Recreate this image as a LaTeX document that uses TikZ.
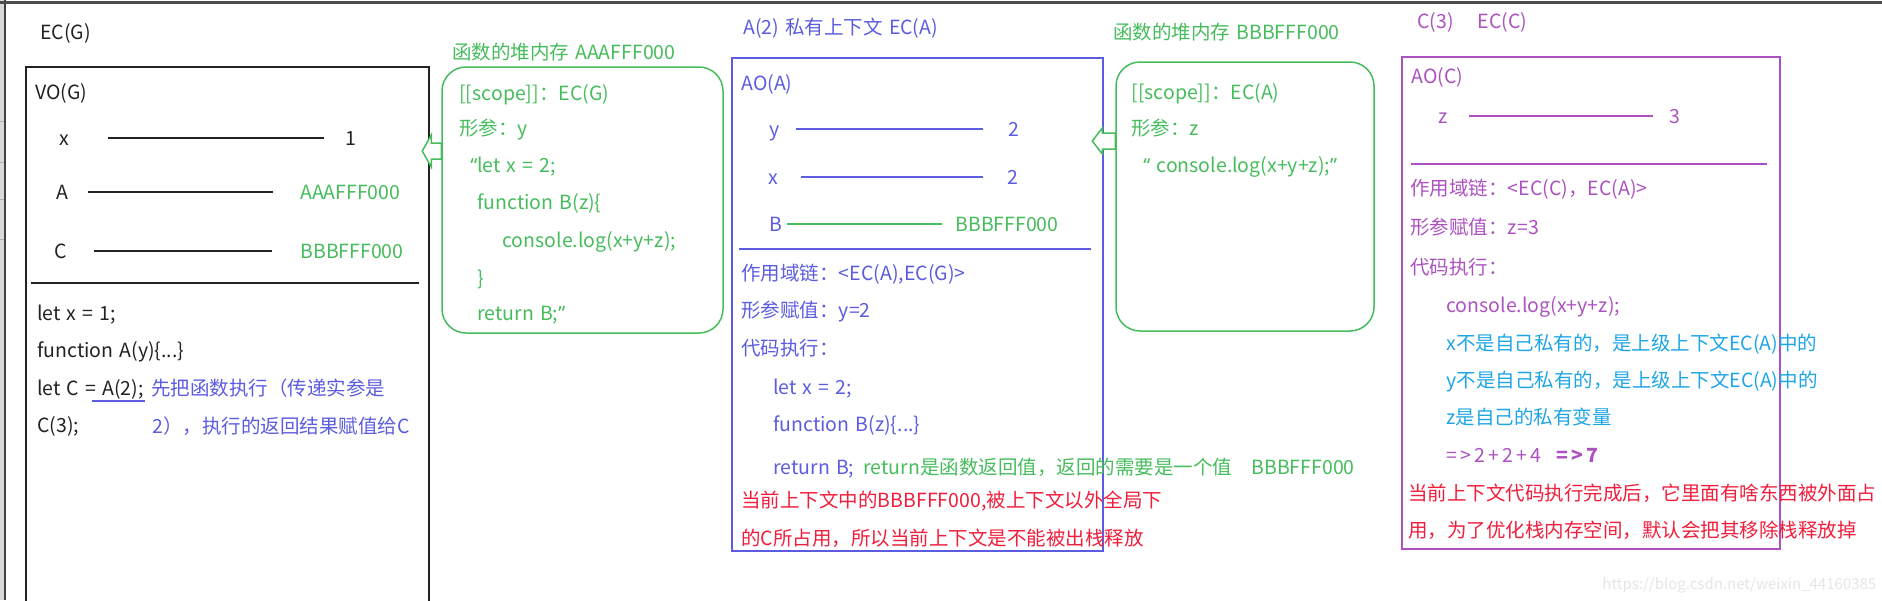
\documentclass[tikz,border=0pt]{standalone}
\usepackage{fontspec}
\setmainfont[WordSpace=1.4]{Noto Sans CJK SC}
\newfontfamily\quotefont{Noto Sans}
\usepackage{xcolor}
\usetikzlibrary{fit}
\definecolor{ecink}{RGB}{34,34,34}
\definecolor{ecgreen}{RGB}{70,188,92}
\definecolor{ecblue}{RGB}{92,92,224}
\definecolor{ecpurple}{RGB}{172,82,192}
\definecolor{eccyan}{RGB}{30,165,230}
\definecolor{ecred}{RGB}{240,30,60}

\begin{document}
\begin{tikzpicture}[x=0.5pt, y=-0.5pt,
  font=\fontsize{9.75}{12}\selectfont,
  txt/.style={anchor=west, inner sep=0pt, text height=1.6ex, text depth=.3ex, text=ecink},
  heap/.style={txt, text=ecgreen},
  ctxa/.style={txt, text=ecblue},
  ctxc/.style={txt, text=ecpurple},
  hint/.style={txt, text=eccyan},
  warn/.style={txt, text=ecred},
  frame/.style={inner sep=0pt, line width=.75pt},
  link/.style={line width=1pt, ecink},
  heaparr/.style={draw=ecgreen, line width=.75pt, fill=white},
]
  \useasboundingbox (0,0) rectangle (1882,600);

  % screenshot edges
  \fill[gray!30] (0,0) rectangle (5,600);
  \foreach \y in {121,162,199,239} {
    \draw[gray!60, line width=.5pt] (0,\y) -- (5,\y);
  }
  \draw[black!75, line width=.75pt] (5,0) -- (5,600);
  \draw[black!70, line width=1.5pt] (0,2) -- (1882,2);

  % global context EC(G)
  \node[txt] (ecgtitle) at (40,32) {EC(G)};
  \node[frame, draw=ecink, line width=1pt, fit={(26,67) (429,606)}] (ecg) {};
  \node[txt] (vog) at (35,92) {VO(G)};
  \node[txt] (gx) at (59,138) {x};
  \node[txt] (gxv) at (345,138) {1};
  \node[txt] (ga) at (56,192) {A};
  \node[heap] (gav) at (300,192) {AAAFFF000};
  \node[txt] (gc) at (54,251) {C};
  \node[heap] (gcv) at (300,251) {BBBFFF000};
  \draw[link] ([xshift=24.5pt]gx.west) -- ([xshift=-10.5pt]gxv.west);
  \draw[link] ([xshift=16pt]ga.west) -- ([xshift=-13.5pt]gav.west);
  \draw[link] ([xshift=20pt]gc.west) -- ([xshift=-14pt]gcv.west);
  \draw[link] (31,283) -- (419,283);
  \foreach \t [count=\i] in {{let x = 1;}, {function A(y)\{.{}.{}.\}}, {let C = A(2);}, {C(3);}} {
    \node[txt] (gcode\i) at (37,275.5+37.6*\i) {\t};
  }
  \draw[ecblue, line width=.6pt] (92,401) -- (145,401);
  \node[ctxa] (gnote1) at (151,388) {先把函数执行（传递实参是};
  \node[ctxa] (gnote2) at (152,426) {2），执行的返回结果赋值给C};

  % heap AAAFFF000
  \node[heap] (heapatitle) at (452,52) {函数的堆内存 AAAFFF000};
  \node[frame, draw=ecgreen, rounded corners=12pt, fit={(442,67) (723,333)}] (heapa) {};
  \node[heap] (ha1) at (459,93) {[[scope]]：EC(G)};
  \node[heap] (ha2) at (459,128) {形参：y};
  \node[heap] (ha3) at (470,165) {{\quotefont “}let x = 2;};
  \node[heap] (ha4) at (477,202) {function B(z)\{};
  \node[heap] (ha5) at (502,240) {console.log(x+y+z);};
  \node[heap] (ha6) at (477,278) {\}};
  \node[heap] (ha7) at (477,313) {return B;{\quotefont ”}};
  \draw[heaparr] (heapa.west |- 0,143) -- ++(-10,0) -- ++(0,-8) -- ++(-9,16)
    -- ++(9,16) -- ++(0,-8) -- ++(10,0) -- cycle;

  % private context EC(A)
  \node[ctxa] (ecatitle) at (743,27) {A(2) 私有上下文 EC(A)};
  \node[frame, draw=ecblue, fit={(732,58) (1103,551)}] (eca) {};
  \node[ctxa] (aoa) at (741,83) {AO(A)};
  \node[ctxa] (ay) at (769,129) {y};
  \node[ctxa] (ayv) at (1008,129) {2};
  \node[ctxa] (ax) at (768,177) {x};
  \node[ctxa] (axv) at (1007,177) {2};
  \node[ctxa] (ab) at (769,224) {B};
  \node[heap] (abv) at (955,224) {BBBFFF000};
  \draw[ecblue, line width=.75pt] ([xshift=13.5pt]ay.west) -- ([xshift=-12.5pt]ayv.west);
  \draw[ecblue, line width=.75pt] ([xshift=16.5pt]ax.west) -- ([xshift=-12pt]axv.west);
  \draw[ecgreen, line width=.75pt] ([xshift=9pt]ab.west) -- ([xshift=-6.5pt]abv.west);
  \draw[ecblue, line width=.75pt] (739,249) -- (1091,249);
  \node[ctxa] (ascope) at (741,273) {作用域链：<EC(A),EC(G)>};
  \node[ctxa] (aparam) at (741,310) {形参赋值：y=2};
  \node[ctxa] (arun) at (741,348) {代码执行：};
  \node[ctxa] (acode1) at (773,387) {let x = 2;};
  \node[ctxa] (acode2) at (773,424) {function B(z)\{.{}.{}.\}};
  \node[ctxa] (acode3) at (773,467) {return B;};
  \node[heap] (aret) at (863,467) {return是函数返回值，返回的需要是一个值\quad BBBFFF000};
  \node[warn] (awarn1) at (741,500) {当前上下文中的BBBFFF000,被上下文以外全局下};
  \node[warn] (awarn2) at (741,538) {的C所占用，所以当前上下文是不能被出栈释放};

  % heap BBBFFF000
  \node[heap] (heapbtitle) at (1113,32) {函数的堆内存 BBBFFF000};
  \node[frame, draw=ecgreen, rounded corners=12pt, fit={(1116,62) (1374,331)}] (heapb) {};
  \node[heap] (hb1) at (1131,92) {[[scope]]：EC(A)};
  \node[heap] (hb2) at (1131,128) {形参：z};
  \node[heap] (hb3) at (1143,165) {{\quotefont “} console.log(x+y+z);{\quotefont ”}};
  \draw[heaparr] (heapb.west |- 0,133) -- ++(-13,0) -- ++(0,-5) -- ++(-10,13)
    -- ++(10,13) -- ++(0,-5) -- ++(13,0) -- cycle;

  % private context EC(C)
  \node[ctxc] (ecctitle) at (1417,21) {C(3)\hspace{12pt}EC(C)};
  \node[frame, draw=ecpurple, line width=1pt, fit={(1402,57) (1780,549)}] (ecc) {};
  \node[ctxc] (aoc) at (1411,76) {AO(C)};
  \node[ctxc] (cz) at (1438,116) {z};
  \node[ctxc] (czv) at (1669,116) {3};
  \draw[ecpurple, line width=.75pt] ([xshift=15.5pt]cz.west) -- ([xshift=-8pt]czv.west);
  \draw[ecpurple, line width=.75pt] (1411,164) -- (1767,164);
  \node[ctxc] (cscope) at (1410,188) {作用域链：<EC(C)，EC(A)>};
  \node[ctxc] (cparam) at (1410,227) {形参赋值：z=3};
  \node[ctxc] (crun) at (1410,267) {代码执行：};
  \node[ctxc] (ccode) at (1446,305) {console.log(x+y+z);};
  \node[hint] (chint1) at (1446,343) {x不是自己私有的，是上级上下文EC(A)中的};
  \node[hint] (chint2) at (1446,380) {y不是自己私有的，是上级上下文EC(A)中的};
  \node[hint] (chint3) at (1446,417) {z是自己的私有变量};
  \node[ctxc] (csum) at (1446,455) {=\,>\,2\,+\,2\,+\,4\hspace{7.5pt}\textbf{=\,>\,7}};
  \node[warn] (cwarn1) at (1408,493) {当前上下文代码执行完成后，它里面有啥东西被外面占};
  \node[warn] (cwarn2) at (1408,530) {用，为了优化栈内存空间，默认会把其移除栈释放掉};

  % watermark
  \node[txt, text=black!10, font=\fontsize{7.5}{9}\selectfont] (mark) at (1602,582) {https://blog.csdn.net/weixin\_44160385};
\end{tikzpicture}
\end{document}
